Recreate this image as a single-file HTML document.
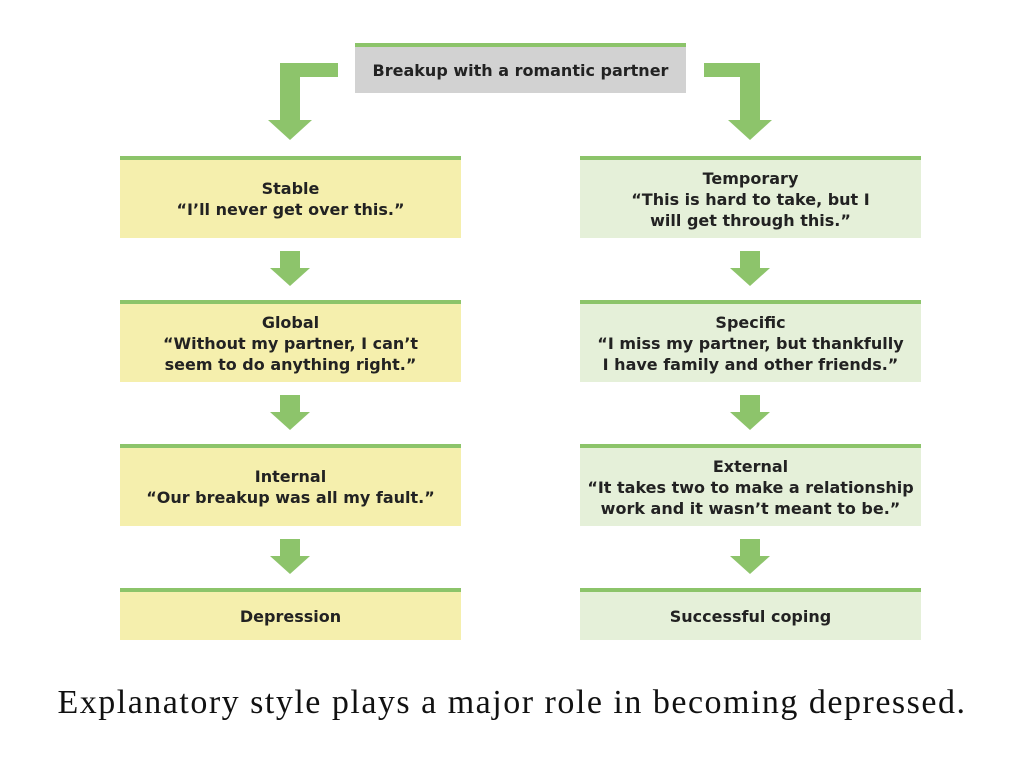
<!DOCTYPE html>
<html><head><meta charset="utf-8"><style>
body{margin:0;width:1024px;height:768px;background:#fff;position:relative;overflow:hidden;font-family:"DejaVu Sans","Liberation Sans",sans-serif}
.b{position:absolute;box-sizing:border-box;border-top:4px solid #8cc46a;display:flex;align-items:center;justify-content:center;text-align:center;font-weight:bold;font-size:16px;line-height:21px;color:#222}
.y{background:#f5efad;left:120px;width:341px}
.g{background:#e5f0d9;left:580px;width:341px}
.cap{position:absolute;left:0;width:1024px;top:684px;text-align:center;font-family:"Liberation Serif",serif;font-size:34px;letter-spacing:1.5px;color:#111;white-space:nowrap}
</style></head><body>
<svg width="1024" height="768" style="position:absolute;left:0;top:0">
<g fill="#8dc46b">
<rect x="280" y="63" width="58" height="14"/><rect x="280" y="63" width="20" height="60"/><polygon points="268,120 312,120 290,140"/>
<rect x="704" y="63" width="56" height="14"/><rect x="740" y="63" width="20" height="60"/><polygon points="728,120 772,120 750,140"/>
<g id="a"><rect x="280" y="251" width="20" height="19"/><polygon points="270,268 310,268 290,286"/></g>
<use href="#a" x="460"/><use href="#a" y="144"/><use href="#a" x="460" y="144"/><use href="#a" y="288"/><use href="#a" x="460" y="288"/>
</g>
</svg>
<div class="b" style="left:355px;top:43px;width:331px;height:50px;background:#d2d2d2">Breakup with a romantic partner</div>
<div class="b y" style="top:156px;height:82px">Stable<br>“I’ll never get over this.”</div>
<div class="b y" style="top:300px;height:82px">Global<br>“Without my partner, I can’t<br>seem to do anything right.”</div>
<div class="b y" style="top:444px;height:82px">Internal<br>“Our breakup was all my fault.”</div>
<div class="b y" style="top:588px;height:52px">Depression</div>
<div class="b g" style="top:156px;height:82px">Temporary<br>“This is hard to take, but I<br>will get through this.”</div>
<div class="b g" style="top:300px;height:82px">Specific<br>“I miss my partner, but thankfully<br>I have family and other friends.”</div>
<div class="b g" style="top:444px;height:82px">External<br>“It takes two to make a relationship<br>work and it wasn’t meant to be.”</div>
<div class="b g" style="top:588px;height:52px">Successful coping</div>
<div class="cap">Explanatory style plays a major role in becoming depressed.</div>
</body></html>
